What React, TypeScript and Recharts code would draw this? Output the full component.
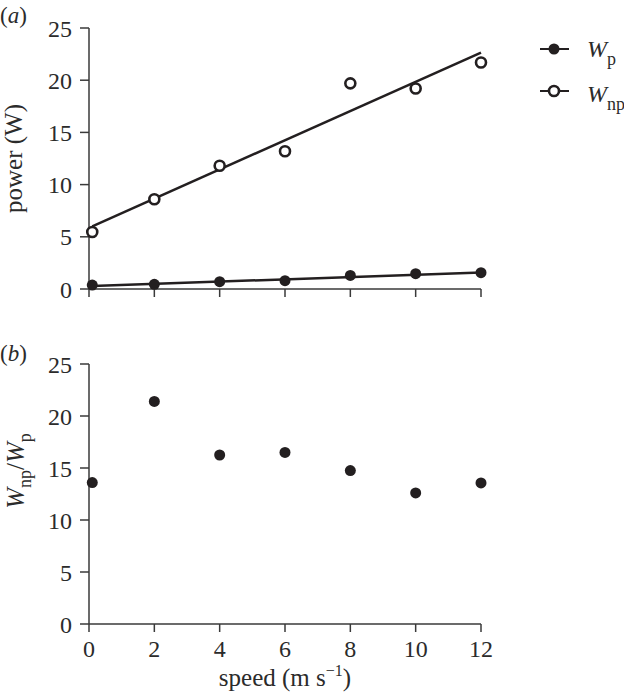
import { ComposedChart, Line, Scatter, XAxis, YAxis, Label } from "recharts";

const speed = [0.1, 2, 4, 6, 8, 10, 12];
const wp = [0.38, 0.45, 0.7, 0.8, 1.3, 1.47, 1.56];
const wnp = [5.46, 8.6, 11.8, 13.2, 19.7, 19.2, 21.7];
const ratio = [13.6, 21.4, 16.25, 16.5, 14.75, 12.6, 13.56];

// regression lines, read at both ends
const fitSpeed = [0.1, 12];
const wpFit = [0.28, 1.58];
const wnpFit = [6.0, 22.65];

const xTicks = [0, 2, 4, 6, 8, 10, 12];
const yTicks = [0, 5, 10, 15, 20, 25];

const INK = "#231f20";
const AXIS = "#3a3a3a";
const TEXT = "#2b2b2b";
const FONT = "'Liberation Serif', 'Times New Roman', serif";

const pointsData = speed.map((s, i) => ({ speed: s, wp: wp[i], wnp: wnp[i], ratio: ratio[i] }));
const fitData = fitSpeed.map((s, i) => ({ speed: s, wpFit: wpFit[i], wnpFit: wnpFit[i] }));

const tickStyle = { fill: TEXT, fontSize: 24, fontFamily: FONT };

const filledDot = (p: any) => <circle cx={p.cx} cy={p.cy} r={5.5} fill={INK} />;
const openDot = (p: any) => (
  <circle cx={p.cx} cy={p.cy} r={5} fill="#fff" stroke={INK} strokeWidth={2.6} />
);

// legend drawn next to the top panel
const LegendBox = () => (
  <svg width={90} height={90} style={{ position: "absolute", left: 536, top: 28, overflow: "visible" }}>
    <g fontFamily={FONT} fill={TEXT}>
      <line x1={4} y1={21} x2={33} y2={21} stroke={INK} strokeWidth={2} />
      <circle cx={18} cy={21} r={5.5} fill={INK} />
      <text x={51} y={29} fontSize={24}>
        <tspan fontStyle="italic">W</tspan>
        <tspan fontSize={18} dy={8}>p</tspan>
      </text>
      <line x1={4} y1={63} x2={33} y2={63} stroke={INK} strokeWidth={2} />
      <circle cx={18} cy={63} r={5} fill="#fff" stroke={INK} strokeWidth={2.6} />
      <text x={51} y={74} fontSize={24}>
        <tspan fontStyle="italic">W</tspan>
        <tspan fontSize={18} dy={8}>np</tspan>
      </text>
    </g>
  </svg>
);

const powerLabel = (props: any) => {
  const vb = props.viewBox;
  const cy = vb.y + vb.height / 2;
  return (
    <text x={22} y={cy} transform={`rotate(-90, 22, ${cy})`} textAnchor="middle" fontSize={25} fontFamily={FONT} fill={TEXT}>
      power (W)
    </text>
  );
};

const ratioLabel = (props: any) => {
  const vb = props.viewBox;
  const cy = vb.y + vb.height / 2 - 23;
  return (
    <text x={24} y={cy} transform={`rotate(-90, 24, ${cy})`} textAnchor="middle" fontSize={25} fontFamily={FONT} fill={TEXT}>
      <tspan fontStyle="italic">W</tspan>
      <tspan fontSize={18} dy={7}>np</tspan>
      <tspan dy={-7}>/</tspan>
      <tspan fontStyle="italic">W</tspan>
      <tspan fontSize={18} dy={7}>p</tspan>
    </text>
  );
};

const speedLabel = (props: any) => {
  const vb = props.viewBox;
  const cx = vb.x + vb.width / 2;
  return (
    <text x={cx} y={vb.y + 62} textAnchor="middle" fontSize={25} fontFamily={FONT} fill={TEXT}>
      speed (m s<tspan fontSize={16} dy={-10}>−1</tspan>
      <tspan dy={10}>)</tspan>
    </text>
  );
};

const panelText = (label: string, y: number) => (
  <div
    style={{
      position: "absolute",
      left: 0,
      top: y,
      fontFamily: FONT,
      fontSize: 23,
      color: TEXT,
      lineHeight: 1,
    }}
  >
    (<i>{label}</i>)
  </div>
);

export default function App() {
  return (
    <div style={{ position: "absolute", left: 0, top: 0, width: 624, height: 698, background: "#fff" }}>
      {panelText("a", 4)}
      {panelText("b", 342)}
      <LegendBox />

      <div style={{ position: "absolute", left: 0, top: 0 }}>
        <ComposedChart width={624} height={330} data={pointsData} margin={{ top: 28, right: 143, bottom: 0, left: 0 }}>
          <XAxis
            dataKey="speed"
            type="number"
            domain={[0, 12]}
            ticks={xTicks}
            tickFormatter={() => ""}
            height={41}
            tickSize={8}
            stroke={AXIS}
            strokeWidth={1.5}
          />
          <YAxis
            type="number"
            domain={[0, 25]}
            ticks={yTicks}
            width={89}
            tickSize={9}
            tickMargin={8}
            tick={tickStyle}
            stroke={AXIS}
            strokeWidth={1.5}
          >
            <Label content={powerLabel} />
          </YAxis>
          <Line data={fitData} dataKey="wpFit" stroke={INK} strokeWidth={2.5} dot={false} isAnimationActive={false} />
          <Line data={fitData} dataKey="wnpFit" stroke={INK} strokeWidth={2.5} dot={false} isAnimationActive={false} />
          <Scatter dataKey="wp" fill={INK} shape={filledDot} isAnimationActive={false} />
          <Scatter dataKey="wnp" fill="#fff" shape={openDot} isAnimationActive={false} />
        </ComposedChart>
      </div>

      <div style={{ position: "absolute", left: 0, top: 330 }}>
        <ComposedChart width={624} height={368} data={pointsData} margin={{ top: 34, right: 143, bottom: 0, left: 0 }}>
          <XAxis
            dataKey="speed"
            type="number"
            domain={[0, 12]}
            ticks={xTicks}
            height={74}
            tickSize={8}
            tickMargin={8}
            tick={tickStyle}
            stroke={AXIS}
            strokeWidth={1.5}
          >
            <Label content={speedLabel} />
          </XAxis>
          <YAxis
            type="number"
            domain={[0, 25]}
            ticks={yTicks}
            width={89}
            tickSize={9}
            tickMargin={8}
            tick={tickStyle}
            stroke={AXIS}
            strokeWidth={1.5}
          >
            <Label content={ratioLabel} />
          </YAxis>
          <Scatter dataKey="ratio" fill={INK} shape={filledDot} isAnimationActive={false} />
        </ComposedChart>
      </div>
    </div>
  );
}
